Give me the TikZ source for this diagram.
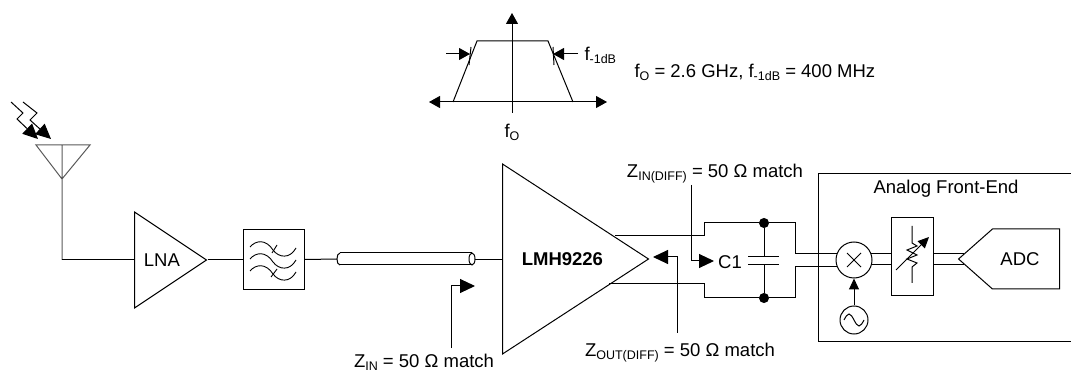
\documentclass[tikz,border=0pt]{standalone}
\usepackage{fontspec}
\setmainfont{Liberation Sans}
\usepackage{tikz}
\usetikzlibrary{arrows.meta,positioning,shapes.geometric,shapes.symbols}
\newcommand{\lowsub}[1]{\raisebox{-3pt}{\fontsize{12.5}{13}\selectfont #1}}

\begin{document}
\begin{tikzpicture}[x=1pt,y=-1pt,line width=1pt,>={Triangle[length=15pt,width=14pt]},
   every node/.style={font=\fontsize{18.5}{20}\selectfont},
   amp/.style={draw,isosceles triangle,isosceles triangle stretches,inner sep=0pt,anchor=lower side},
   blk/.style={draw,rectangle,inner sep=0pt,anchor=north west},
   dot/.style={draw,circle,fill=black,inner sep=0pt,minimum size=9pt},
   ring/.style={draw,circle,inner sep=0pt,fill=white},
   lab/.style={inner sep=0pt},
   tip/.style={->,>={Triangle[length=11pt,width=12pt]}}]
   \useasboundingbox (0,0) rectangle (1071,371);
   % spectrum on top
   \coordinate (ax_t) at (512,13);
   \coordinate (ax_b) at (512,113);
   \coordinate (ax_l) at (429,102);
   \coordinate (ax_r) at (607,102);
   \draw[tip,<-] (ax_t) -- (ax_b);
   \draw[tip,<->] (ax_l) -- (ax_r);
   \draw (453,102) -- (477,41) -- (548,41) -- (573,102);
   \draw (471,47) -- (469,65);
   \draw (553,47) -- (554,65);
   \coordinate (bw_l0) at (446,54);
   \coordinate (bw_l1) at (470,54);
   \coordinate (bw_r0) at (578,54);
   \coordinate (bw_r1) at (553,54);
   \draw[tip] (bw_l0) -- (bw_l1);
   \draw[tip] (bw_r0) -- (bw_r1);
   \node[lab,anchor=west] (bw_txt) at (584,55) {f\lowsub{-1dB}};
   \node[lab] (fo_txt) at (512,132) {f\lowsub{O}};
   \node[lab,anchor=west] (spec_txt) at (634,72) {f\lowsub{O} = 2.6 GHz, f\lowsub{-1dB} = 400 MHz};

   % antenna
   \coordinate (ant_l) at (36,145);
   \coordinate (ant_r) at (90,145);
   \coordinate (ant_t) at (62,145);
   \coordinate (ant_b) at (62,179);
   \coordinate (ant_c) at (62,260);
   \draw[black!65] (ant_l) -- (ant_r) -- (ant_b) -- cycle (ant_t) -- (ant_b) -- (ant_c);
   \draw[->] (11,102) -- (23,113) -- (17,119) -- (38,139);
   \draw[->] (23,102) -- (37,113) -- (30,120) -- (51,139);

   % receive chain
   \node[amp,minimum height=72pt,minimum width=96pt] (lna) at (134,260) {LNA};
   \node[blk,minimum width=61pt,minimum height=60pt] (filt) at (243,229) {};
   \foreach \dy in {0,12,24}
      \draw[line width=0.9pt] (250,247+\dy) .. controls (256,240+\dy) and (266,239+\dy) .. (273,250+\dy)
         .. controls (279,258+\dy) and (290,259+\dy) .. (296,248+\dy);
   \draw[line width=0.9pt] (272,253) -- (277,245);
   \draw[line width=0.9pt] (271,277) -- (277,269);
   \coordinate (coax_l) at (337,259);
   \coordinate (coax_r) at (475,260);
   \draw (340,253) -- (472,253) (340,265) -- (472,265);
   \draw (340,253) .. controls (336,253) and (336,265) .. (340,265);
   \draw (472,259) ellipse [x radius=3,y radius=6];
   \node[amp,minimum height=146pt,minimum width=190pt] (lmh) at (502,259) {\bfseries LMH9226};

   \draw (ant_c) -- (lna.lower side);
   \draw (lna.apex) -- (filt.west |- lna.apex);
   \draw (filt.east) -- (coax_l);
   \draw (coax_r) -- (coax_r -| lmh.lower side);

   % differential output and C1
   \coordinate (out_p) at (615,236);
   \coordinate (out_n) at (609,284);
   \node[dot] (c_t) at (764,223) {};
   \node[dot] (c_b) at (764,298) {};
   \coordinate (plate_t) at (764,257);
   \coordinate (plate_b) at (764,265);
   \coordinate (in_p) at (795,254);
   \coordinate (in_n) at (795,267);
   \draw (out_p) -- (704,236) -- (704,223) -- (c_t) -- (795,223) -- (in_p);
   \draw (out_n) -- (704,284) -- (704,298) -- (c_b) -- (795,298) -- (in_n);
   \draw (c_t) -- (plate_t) (plate_b) -- (c_b);
   \draw (748,257) -- (779,257) (748,265) -- (779,265);
   \node[lab] (c1_txt) at (730,262) {C1};

   % match labels
   \node[lab,anchor=base] (zin_txt) at (424,367.5) {Z\lowsub{IN} = 50 Ω match};
   \node[lab,anchor=base] (zdiff_txt) at (715,178) {Z\lowsub{IN(DIFF)} = 50 Ω match};
   \node[lab,anchor=base] (zout_txt) at (680,356) {Z\lowsub{OUT(DIFF)} = 50 Ω match};
   \coordinate (zin_0) at (451,348);
   \coordinate (zin_1) at (475,286);
   \coordinate (zdiff_0) at (691,185);
   \coordinate (zdiff_1) at (714,261);
   \coordinate (zout_0) at (677,333);
   \coordinate (zout_1) at (653,257);
   \draw[->] (zin_0) |- (zin_1);
   \draw[->] (zdiff_0) |- (zdiff_1);
   \draw[->] (zout_0) |- (zout_1);

   % analog front end
   \coordinate (afe_t) at (1071,174);
   \coordinate (afe_b) at (1071,342);
   \draw (afe_t) -- (818,174) -- (818,342) -- (afe_b);
   \node[lab] (afe_txt) at (946,189) {Analog Front-End};
   \node[ring,minimum size=36pt] (mixer) at (854,260) {};
   \draw ([shift={(-7,-7)}]mixer.center) -- ([shift={(7,7)}]mixer.center);
   \draw ([shift={(-7,7)}]mixer.center) -- ([shift={(7,-7)}]mixer.center);
   \node[ring,minimum size=28pt] (osc) at (854,320) {};
   \draw (844,320) sin (849,314) cos (854,320) sin (859,326) cos (864,320);
   \node[blk,minimum width=42pt,minimum height=78pt] (vga) at (891,217) {};
   \draw (912,226) -- (912,243) -- (917,246) -- (907,250) -- (917,255) -- (907,259) -- (917,263) -- (912,267) -- (912,283);
   \draw[->,>={Triangle[length=11pt,width=10pt]}] (896,270) -- (929,237);
   \node[draw,signal,signal to=west,signal pointer angle=83,inner sep=0pt,
      minimum width=101pt,minimum height=60pt] (adc) at (1026,259) {};
   \node[lab] (adc_txt) at (1020,259) {ADC};
   \coordinate (vga_p) at (933,254);
   \coordinate (vga_n) at (933,265);
   \coordinate (adc_p) at (964,254);
   \coordinate (adc_n) at (964,265);
   \draw (in_p) -- (in_p -| mixer.160);
   \draw (in_n) -- (in_n -| mixer.203);
   \draw (vga_p -| mixer.20) -- (vga_p -| vga.west);
   \draw (vga_n -| mixer.-17) -- (vga_n -| vga.west);
   \draw (vga_p) -- (adc_p);
   \draw (vga_n) -- (adc_n);
   \draw[->,>={Triangle[length=11pt,width=10pt]}] (osc) -- (mixer);
\end{tikzpicture}
\end{document}
